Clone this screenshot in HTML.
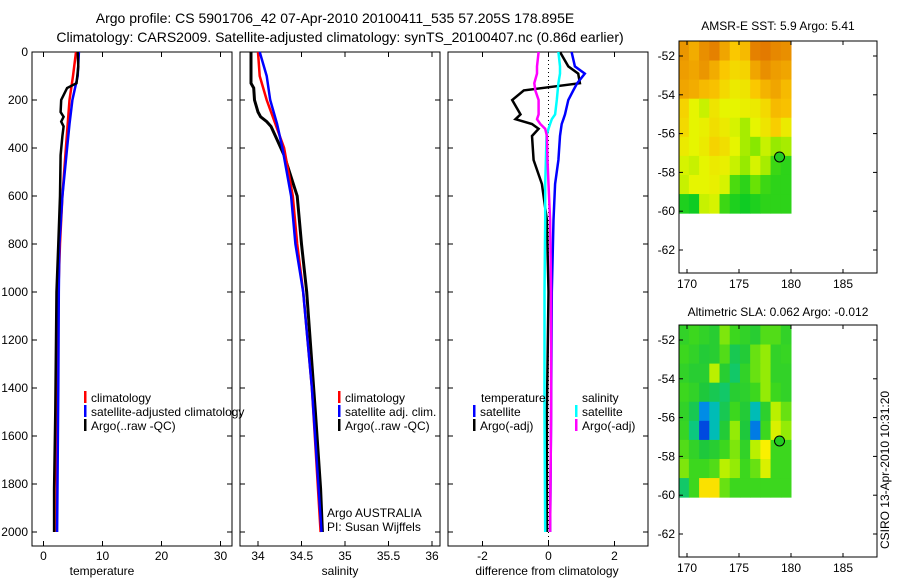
<!DOCTYPE html>
<html><head><meta charset="utf-8"><style>
body{margin:0;background:#fff;}
svg{display:block;font-family:"Liberation Sans",sans-serif;}
text{font-size:12px;fill:#000;}
</style></head><body>
<svg id="fig" width="900" height="580" viewBox="0 0 900 580">
<text x="335" y="23" text-anchor="middle" style="font-size:14px">Argo profile: CS 5901706_42 07-Apr-2010 20100411_535 57.205S 178.895E</text>
<text x="340" y="42" text-anchor="middle" style="font-size:14px">Climatology: CARS2009. Satellite-adjusted climatology: synTS_20100407.nc (0.86d earlier)</text>
<text x="102" y="575" text-anchor="middle">temperature</text>
<text x="340" y="575" text-anchor="middle">salinity</text>
<text x="547" y="575" text-anchor="middle">difference from climatology</text>
<text x="778" y="30" text-anchor="middle">AMSR-E SST: 5.9 Argo: 5.41</text>
<text x="778" y="316" text-anchor="middle">Altimetric SLA: 0.062 Argo: -0.012</text>
<text transform="translate(889,470) rotate(-90)" text-anchor="middle">CSIRO 13-Apr-2010 10:31:20</text>
<g id="plots"></g>
</svg>
<script>
// depth levels (dbar)
const tDep = [0,100,200,300,400,600,800,1000,1400,2000];
const tClim = [5.5,5.0,4.4,4.1,3.8,3.2,2.8,2.5,2.3,2.2];
const tSat = [6.0,5.8,4.9,4.4,4.0,3.2,2.7,2.6,2.5,2.3];
const aDep = [0,60,130,150,200,250,270,290,310,350,430,600,800,1000,1500,1820,2000];
const tArgo = [5.8,5.9,5.6,4.0,3.0,2.9,3.4,3.0,3.4,3.2,2.9,2.8,2.5,2.2,2.0,1.8,1.8];
const sClim = [34.0,34.02,34.1,34.2,34.3,34.4,34.45,34.52,34.62,34.72];
const sSat = [34.02,34.1,34.14,34.22,34.28,34.38,34.43,34.52,34.62,34.73];
const sArgo = [33.92,33.92,33.92,33.95,33.96,34.0,34.03,34.1,34.15,34.2,34.3,34.45,34.5,34.56,34.66,34.72,34.74];
// differences
const dDep = [0,60,90,130,160,200,260,280,300,320,350,450,550,700,1000,1500,2000];
const dTsat = [0.7,0.8,1.1,0.87,0.75,0.6,0.5,0.45,0.4,0.38,0.35,0.3,0.2,0.15,0.1,0.08,0.05];
const dTargo = [0.35,0.6,0.9,0.95,-0.75,-1.1,-0.85,-1.0,-0.5,-0.3,-0.5,-0.45,-0.2,-0.05,0.0,-0.05,-0.05];
const dSsat = [0.3,0.35,0.35,0.3,0.28,0.25,0.2,0.1,0.05,0.0,-0.06,-0.08,-0.1,-0.1,-0.12,-0.12,-0.1];
const dSargo = [-0.3,-0.35,-0.35,-0.43,-0.4,-0.3,-0.3,-0.35,-0.25,-0.1,-0.05,-0.03,0.0,0.05,0.08,0.08,0.05];
const depthTicks = [0,200,400,600,800,1000,1200,1400,1600,1800,2000];
const tTicks = [0,10,20,30];
const sTicks = [34,34.5,35,35.5,36];
const sTickLabels = ['34','34.5','35','35.5','36'];
const dTicks = [-2,0,2];
// maps
const mapLats = [-52,-54,-56,-58,-60,-62];
const mapLons = [170,175,180,185];
const sstGrid = [
[7.5,7.2,7.6,7.8,7.3,6.8,7.0,7.8,7.9,7.7,7.6],
[7.4,7.3,7.5,7.2,6.8,6.5,6.6,7.3,7.6,7.4,7.3],
[7.3,7.2,7.0,6.9,6.5,6.2,6.3,6.8,7.1,7.3,7.0],
[6.6,6.0,5.8,6.3,6.0,6.0,6.1,6.2,6.5,7.0,6.9],
[6.5,6.0,6.1,6.4,6.2,5.9,5.6,6.0,6.3,6.7,6.2],
[6.2,6.0,6.2,6.6,6.4,6.0,5.6,5.4,5.8,5.5,5.6],
[5.9,5.8,6.0,6.2,6.1,5.8,5.5,5.9,5.6,4.9,4.8],
[5.8,6.0,6.0,6.1,5.9,5.0,4.8,5.2,4.9,4.8,4.8],
[4.7,4.6,5.8,5.9,4.9,4.7,4.6,4.7,4.8,4.8,4.8]];
const slaGrid = [
[0,0.02,0,-0.02,0.05,0.02,0,-0.02,0.03,0.03,0],
[0.02,0,-0.03,-0.02,0.03,-0.05,-0.03,0.04,0.06,0,0.01],
[0,-0.02,-0.02,0.08,-0.02,-0.06,0,0.04,0.06,0,0],
[0.02,0,-0.04,-0.05,-0.06,-0.02,-0.01,0.02,0.06,0.02,0],
[0,-0.05,-0.14,-0.1,-0.05,0.02,-0.03,-0.1,-0.01,0.08,0.04],
[0.01,-0.07,-0.18,-0.1,-0.03,0.06,-0.04,-0.15,0.02,0.1,0.06],
[0.03,0,-0.04,-0.02,0.02,0.05,0,0.08,0.12,0.02,0.02],
[0.05,0.02,0.02,0.03,0.08,0.06,0.02,0.04,0.1,0.02,0.02],
[-0.06,0.02,0.14,0.14,0.04,0.02,0.02,0.02,0.02,0.02,0.02]];
const argoLon = 178.895, argoLat = -57.205;

const NS='http://www.w3.org/2000/svg';
const root=document.getElementById('plots');
function mk(tag,attrs,parent){const e=document.createElementNS(NS,tag);for(const k in attrs)e.setAttribute(k,attrs[k]);(parent||root).appendChild(e);return e;}
const Y0=52, YS=0.24;
const yD=d=>Y0+d*YS;
const panels=[
 {x0:32,x1:232,fx:v=>43.5+v*5.9,ticks:tTicks,labels:tTicks.map(String),name:'temperature-panel'},
 {x0:240,x1:440,fx:v=>258+(v-34)*87,ticks:sTicks,labels:sTickLabels,name:'salinity-panel'},
 {x0:448,x1:648,fx:v=>548.5+v*33,ticks:dTicks,labels:dTicks.map(String),name:'difference-panel'}];
const BOT=546;
panels.forEach((p,i)=>{
 const g=mk('g',{});
 
 
 const r=mk('rect',{x:p.x0,y:Y0,width:p.x1-p.x0,height:BOT-Y0,fill:'none',stroke:'#000','stroke-width':1},g);
 
 
 p.ticks.forEach((t,j)=>{const x=p.fx(t);
  mk('line',{x1:x,x2:x,y1:BOT,y2:BOT-5,stroke:'#000'},g);mk('line',{x1:x,x2:x,y1:Y0,y2:Y0+5,stroke:'#000'},g);
  const tx=mk('text',{x:x,y:560,'text-anchor':'middle'},g);tx.textContent=p.labels[j];
  
  });
 depthTicks.forEach(d=>{const y=yD(d);
  mk('line',{x1:p.x0,x2:p.x0+5,y1:y,y2:y,stroke:'#000'},g);mk('line',{x1:p.x1,x2:p.x1-5,y1:y,y2:y,stroke:'#000'},g);
  if(i===0){const tx=mk('text',{x:28,y:y+4,'text-anchor':'end'},g);tx.textContent=d;
   
   }});
});
function line(p,dep,vals,color,w,name){
 const pts=dep.map((d,i)=>p.fx(vals[i]).toFixed(1)+','+yD(d).toFixed(1)).join(' ');
 const l=mk('polyline',{points:pts,fill:'none',stroke:color,'stroke-width':w});
 
 
}
line(panels[0],tDep,tClim,'#f00',2.5,'temp-climatology-line');
line(panels[0],tDep,tSat,'#00f',2.5,'temp-satellite-line');
line(panels[0],aDep,tArgo,'#000',2.5,'temp-argo-line');
line(panels[1],aDep,sArgo,'#000',3,'sal-argo-line');
line(panels[1],tDep,sClim,'#f00',2.5,'sal-climatology-line');
line(panels[1],tDep,sSat,'#00f',2.5,'sal-satellite-line');
const zl=mk('line',{x1:panels[2].fx(0),x2:panels[2].fx(0),y1:Y0,y2:BOT,stroke:'#000','stroke-dasharray':'1,3'});


line(panels[2],dDep,dTargo,'#000',2.5,'diff-temp-argo-line');
line(panels[2],dDep,dTsat,'#00f',2.5,'diff-temp-satellite-line');
line(panels[2],dDep,dSsat,'#0ff',2.5,'diff-sal-satellite-line');
line(panels[2],dDep,dSargo,'#f0f',2.5,'diff-sal-argo-line');
function legend(x,y,color,label){
 if(color){const b=mk('rect',{x:x,y:y-7,width:2.5,height:12,fill:color});
  
  }
 const t=mk('text',{x:x+7,y:y+4});t.textContent=label;
 
 
}
legend(84,398,'#f00','climatology');legend(84,412,'#00f','satellite-adjusted climatology');legend(84,426,'#000','Argo(..raw -QC)');
legend(338,398,'#f00','climatology');legend(338,412,'#00f','satellite adj. clim.');legend(338,426,'#000','Argo(..raw -QC)');
legend(474,398,null,'temperature');legend(473,412,'#00f','satellite');legend(473,426,'#000','Argo(-adj)');
legend(575,398,null,'salinity');legend(575,412,'#0ff','satellite');legend(575,426,'#f0f','Argo(-adj)');
[['Argo AUSTRALIA',517],['PI: Susan Wijffels',531]].forEach(a=>{const t=mk('text',{x:327,y:a[1]});t.textContent=a[0];
 
 });

function interp(stops,v){
 if(v<=stops[0][0])return 'rgb('+stops[0][1].join(',')+')';
 for(let i=1;i<stops.length;i++){if(v<=stops[i][0]){const a=stops[i-1],b=stops[i],f=(v-a[0])/(b[0]-a[0]);
  return 'rgb('+a[1].map((c,k)=>Math.round(c+(b[1][k]-c)*f)).join(',')+')';}}
 return 'rgb('+stops[stops.length-1][1].join(',')+')';
}
const sstStops=[[4.5,[0,200,40]],[5.3,[120,230,0]],[6.0,[230,245,0]],[6.8,[250,200,0]],[8,[225,115,0]]];
const slaStops=[[-0.2,[0,40,220]],[-0.14,[0,140,230]],[-0.09,[0,200,170]],[-0.04,[30,200,60]],[0.02,[60,215,30]],[0.07,[170,240,0]],[0.12,[250,240,0]],[0.2,[250,180,0]]];
function map(top,bottom,grid,stops,name){
 const L=679,R=877,fx=lon=>687+(lon-170)*10.4,fy=lat=>top+15+(-52-lat)*19.4;
 const g=mk('g',{});
 
 
 const lon0=169.2,lon1=180,lat0=-51.25,lat1=-60.1;
 const nr=grid.length,nc=grid[0].length,cw=(fx(lon1)-fx(lon0))/nc,ch=(fy(lat1)-fy(lat0))/nr;
 grid.forEach((row,r)=>row.forEach((v,c)=>{
  const cell=mk('rect',{x:fx(lon0)+c*cw,y:fy(lat0)+r*ch,width:cw+0.5,height:ch+0.5,fill:interp(stops,v)},g);
  
  }));
 const fr=mk('rect',{x:L,y:top,width:R-L,height:bottom-top,fill:'none',stroke:'#000'},g);
 
 
 mapLats.forEach(lat=>{const y=fy(lat);mk('line',{x1:L,x2:L+4,y1:y,y2:y,stroke:'#000'},g);mk('line',{x1:R,x2:R-4,y1:y,y2:y,stroke:'#000'},g);
  const t=mk('text',{x:L-4,y:y+4,'text-anchor':'end'},g);t.textContent=lat;
  
  });
 mapLons.forEach(lon=>{const x=fx(lon);mk('line',{x1:x,x2:x,y1:bottom,y2:bottom-4,stroke:'#000'},g);mk('line',{x1:x,x2:x,y1:top,y2:top+4,stroke:'#000'},g);
  const t=mk('text',{x:x,y:bottom+15,'text-anchor':'middle'},g);t.textContent=lon;
  
  });
 const c=mk('circle',{cx:fx(argoLon),cy:fy(argoLat),r:5,fill:'#22cc22',stroke:'#000','stroke-width':1},g);
 
 
}
map(41,273,sstGrid,sstStops,'sst-map');
map(325,557,slaGrid,slaStops,'sla-map');
</script>
</body></html>
